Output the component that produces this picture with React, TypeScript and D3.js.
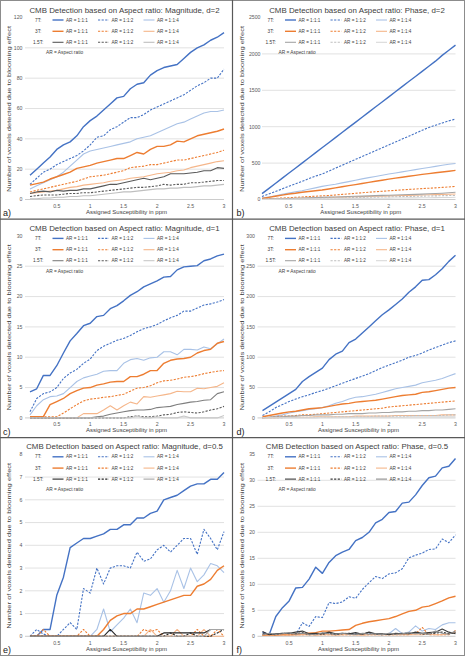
import React from "react";
import * as d3 from "d3";

// ---------- data ----------
const xValues = [0.1,0.2,0.3,0.4,0.5,0.6,0.7,0.8,0.9,1.0,1.1,1.2,1.3,1.4,1.5,1.6,1.7,1.8,1.9,2.0,2.1,2.2,2.3,2.4,2.5,2.6,2.7,2.8,2.9,3.0];
const xTicks = [0.5, 1, 1.5, 2, 2.5, 3];
const xTickLabels = ["0.5", "1", "1.5", "2", "2.5", "3"];

const panelTitles = [
  "CMB Detection based on Aspect ratio: Magnitude, d=2",
  "CMB Detection based on Aspect ratio: Phase, d=2",
  "CMB Detection based on Aspect ratio: Magnitude, d=1",
  "CMB Detection based on Aspect ratio: Phase, d=1",
  "CMB Detection based on Aspect ratio: Magnitude, d=0.5",
  "CMB Detection based on Aspect ratio: Phase, d=0.5",
];
const panelLetters = ["a)", "b)", "c)", "d)", "e)", "f)"];
const yMaxes = [120, 2500, 30, 300, 8, 35];
const yTicksA = [0, 20, 40, 60, 80, 100, 120];
const yTicksB = [0, 500, 1000, 1500, 2000, 2500];
const yTicksC = [0, 5, 10, 15, 20, 25, 30];
const yTicksD = [0, 50, 100, 150, 200, 250, 300];
const yTicksE = [0, 1, 2, 3, 4, 5, 6, 7, 8];
const yTicksF = [0, 5, 10, 15, 20, 25, 30, 35];

const fields = ["7T:", "3T:", "1.5T:"];
const aspectRatios = ["AR = 1:1:1", "AR = 1:1:2", "AR = 1:1:4"];
const yAxisTitle = "Number of voxels detected due to blooming effect";
const xAxisTitle = "Assigned Susceptibility in ppm";
const arNote = "AR = Aspect ratio";

// a) Magnitude d=2
const a7_111 = [16,20,24,28,33,36,38,42,48,52,55,59,63,67,68,73,76,77,82,85,87,88,89,93,97,100,102,105,107,110];
const a7_112 = [10,14,18,20,23,25,27,29,32,36,41,42,46,48,51,54,54,56,59,61,63,65,67,69,72,75,77,80,80,86];
const a7_114 = [7,9,11,13,15,18,22,26,30,32,33,34,35,36,37,38,40,41,42,44,46,48,50,51,53,55,57,58,58,59];
const a3_111 = [9.5,10.5,11.5,13.5,15,16.5,18,20.5,21.5,22.5,24,25,26,27,27,29,31,30,33,35,35,36,38.5,38,40,42,43,44,45,46.5];
const a3_112 = [5,6,7,8,9,10,11,12,13.5,15,15.5,16,17,18,19,21,21.5,22,23,23,24,25,26,26,27,28,29,30,31,32.5];
const a3_114 = [4,4.5,5,5.5,6,7,8,8.5,9.5,10,10.5,11,12,12.5,13,14,14.5,15,16,17,17.5,18,19,19.5,21,22,23,24,25,25.5];
const a15_111 = [4,5,5.5,5,6,5.5,6,6,7,7,8,9,10,10,11,12,13,14,13,14,15,17,17,17,17.5,18,19,19,21,20.5];
const a15_112 = [2,2.5,3,3,3,3.5,4,4,4.5,4.5,5,5.5,6,6.5,7,7.5,8,8,8.5,9,10,9.5,10,10,11,11,11.5,12,12.5,12.5];
const a15_114 = [0.5,0.5,1,1,1.5,1.5,2,2,2.5,2.5,3,3.5,4,4.5,5,5,5.5,6,6.5,7,7,7.5,7.5,8,8,8.5,9,9,9.5,10];

// b) Phase d=2
const b7_111 = [80,150,220,290,360,430,500,570,640,710,780,850,920,990,1060,1130,1200,1270,1340,1410,1480,1550,1620,1690,1760,1830,1900,1980,2050,2120];
const b7_112 = [40,75,110,145,180,215,250,285,320,350,390,430,470,510,550,590,630,670,710,750,790,830,870,910,950,990,1020,1050,1080,1105];
const b7_114 = [20,35,50,70,90,105,120,140,160,180,195,210,228,246,265,283,300,316,333,350,365,380,395,410,425,440,455,470,485,495];
const b3_111 = [15,30,45,60,75,85,100,110,120,130,145,160,175,190,205,220,235,250,265,280,293,306,319,332,345,356,367,378,389,400];
const b3_112 = [5,10,15,20,25,30,35,40,45,50,55,62,70,77,85,92,100,106,113,120,126,132,138,144,150,155,160,166,172,180];
const b3_114 = [3,5,8,10,13,15,18,20,23,25,27,30,32,35,37,40,42,45,47,50,52,55,57,60,62,65,67,70,72,75];
const b15_111 = [2,5,8,11,14,17,20,23,26,29,32,35,38,41,44,47,50,53,56,59,62,65,68,71,74,78,82,86,92,100];
const b15_112 = [1,3,5,7,9,10,12,14,16,18,20,21,23,25,27,29,31,32,34,36,38,40,42,44,46,48,50,52,54,56];
const b15_114 = [0,1,2,3,4,5,6,7,8,9,10,11,12,13,14,15,16,17,18,19,20,21,22,23,24,25,26,27,28,30];

// c) Magnitude d=1
const c7_111 = [4.3,4.8,7,7,8.6,10.7,12.7,13.9,15.2,15.6,16.7,16.9,18,18.5,19.3,20.2,20.8,21.6,22.1,22.6,23.2,23.3,24.4,24.9,25,25.1,25.9,26.2,26.7,27];
const c7_112 = [1,3.2,4,4.3,5,6.5,7.4,8,9,9.7,11.1,11.8,12.3,12.8,13.1,13.6,14.2,14.7,15,15.4,16,16.5,16.9,17.6,17.6,18.1,18.6,18.8,19.1,19.5];
const c7_114 = [0.5,2,3,3.5,3.6,4,5,6,6.6,6.9,7.2,7.7,7.8,7.8,9,9.6,9.8,9.5,9.9,10,10.9,10.9,10.4,11.3,11.3,11.2,11.7,11.4,12.2,13];
const c3_111 = [0.2,0.2,0.2,2.2,2.7,3.2,4,4.5,4.9,5,5.4,5.6,5.9,6,6,6.8,6.8,7.2,7.8,7.8,9,9.5,9.7,9.8,10,10.7,11.1,11.3,12.3,12.6];
const c3_112 = [0.2,0.2,0.2,0.2,0.2,0.8,1.5,2.2,2.8,3.1,3.2,3.4,3.5,3.7,3.9,4.4,4.9,5,5.3,5.8,6.1,6.2,6.4,6.7,6.8,7,7.3,7.5,7.7,7.8];
const c3_114 = [0,0,0,0,0,0,0,0,0.7,0.7,0.7,1.3,2,1.3,2,2.6,2.3,3.5,3.4,3.6,3.8,4,4.4,4.3,4.3,4.9,4.8,5,5.2,5.8];
const c15_111 = [0,0,0,0,0,0,0,0,0,0,0.2,0.3,0.6,0.8,1,1.2,1.3,1.3,1.4,1.7,1.8,1.9,2.2,2.4,2.6,2.7,2.9,3,4,4.3];
const c15_112 = [0,0,0,0,0,0,0,0,0,0,0,0,0,0,0,0.2,0.3,0.2,0.2,0.3,0.5,0.6,0.9,1,0.9,0.8,1,1.3,1.5,1.9];
const c15_114 = [0,0,0,0,0,0,0,0,0,0,0,0,0,0,0,0,0.3,0,0,0.2,0,0,0,0.3,0,0,0,0,0,0.4];

// d) Phase d=1
const d7_111 = [12,19,26,33,40,47,60,68,75,82,96,105,110,124,130,140,150,160,170,178,187,196,207,216,227,228,236,246,258,268];
const d7_112 = [4,10,17,22,27,31,35,38,42,45,49,53,57,61,65,69,73,78,83,87,91,95,100,103,107,112,116,120,124,127];
const d7_114 = [0,1,3,5,8,10,12,14,15,17,20,24,27,31,34,35,37,39,42,45,48,50,52,54,58,60,62,65,69,73];
const d3_111 = [2,4,6,8,10,11,13,15,16,17,19,21,23,24,26,27,28,29,31,33,35,37,38,39,42,43,45,47,49,50];
const d3_112 = [0,1,2,3,3,4,5,5,6,7,8,9,10,11,12,13,14,15,16,18,19,20,21,22,23,24,25,26,27,28];
const d3_114 = [0,0,0,1,1,1,1,1,2,2,2,2,2,2,3,3,3,3,3,3,4,4,4,4,4,4,4,5,5,5];
const d15_111 = [0,1,2,2,3,3,4,4,5,5,5,6,6,7,7,7,8,8,9,9,10,10,11,11,12,12,13,13,14,15];
const d15_112 = [0,0,0,0,1,1,1,1,1,1,1,2,2,2,2,2,2,3,3,3,3,3,3,4,4,4,4,4,5,5];
const d15_114 = [0,0,0,0,0,0,0,0,0,1,1,1,1,1,1,1,1,1,1,1,1,1,2,2,2,2,2,2,2,2];

// e) Magnitude d=0.5
const e7_111 = [0,0,0.3,0.3,1.8,2.6,3.9,4.1,4.3,4.3,4.4,4.5,4.7,4.7,4.9,4.9,5.2,5.2,5.4,5.5,6,6.1,6.2,6.4,6.6,6.7,6.7,6.9,6.9,7.2];
const e7_112 = [0,0.3,0.1,0,0,0.3,0.6,0.3,2.1,1.9,3,2.3,3,3.1,3.1,3,3.7,3.3,3.4,3.8,4,3.7,4,4.3,4.3,3.6,4.7,4.3,3.8,4.6];
const e7_114 = [0,0,0,0,0,0,0,0,0,0,0.3,1.2,0.2,0.5,0.8,1.2,0.6,1.9,1.8,2.1,1.5,2,2.9,2.1,3,2.4,2.7,3.2,3.1,2.8];
const e3_111 = [0,0,0,0,0,0,0,0,0,0,0,0.3,0.7,0.9,1,1,1.2,1.2,1.3,1.4,1.5,1.6,1.7,1.8,1.8,2.2,2.3,2.5,2.9,3.1];
const e3_112 = [0,0,0.3,0,0,0,0,0,0.3,0,0,0,0,0,0,0,0,0.3,0.2,0.3,0,0,0,0,0,0.3,0,0,0.3,0];
const e3_114 = [0,0,0,0,0,0,0,0,0,0,0,0,0,0,0,0,0,0,0.3,0,0,0,0.3,0,0,0,0.3,0,0,0];
const e15_111 = [0,0,0,0,0,0,0,0,0,0,0,0,0.3,0,0,0,0,0,0,0,0.15,0.15,0.15,0.15,0.15,0.15,0.15,0.3,0.3,0.3];
const e15_112 = [0,0,0,0,0,0,0,0,0,0,0,0,0,0,0,0,0,0,0,0,0,0.15,0,0,0.15,0,0,0,0.15,0.3];
const e15_114 = [0,0,0,0,0,0,0,0,0,0,0,0,0,0,0,0,0,0,0,0,0,0,0,0,0,0,0,0.3,0.3,0.3];

// f) Phase d=0.5
const f7_111 = [0.8,0.3,3.8,5.5,6.8,9.3,9.4,11,13.3,12.1,14.2,15.5,16.2,16.7,18.4,19,20,21.8,22.5,23.8,24,25.6,25.8,27.2,29,30.5,30.8,32.4,32.7,34.2];
const f7_112 = [0.3,0.3,0.3,0.3,0.3,0.3,2.6,1.9,3.8,3.6,6.5,6.3,6.6,7.6,7.3,9,10.3,11.5,11.1,12,12.2,13,15.1,15.6,16,16.7,16.8,18.7,18,19.5];
const f7_114 = [0.3,0.3,0.5,0.5,0.5,0.5,0.3,0.5,0.5,0.5,0.5,0.3,0.5,0.5,0.5,0.5,0.5,0.5,0.3,0.5,1.5,0.5,0.8,2,1,1.5,1.3,2.2,2.6,2.6];
const f3_111 = [0.2,0.2,0.2,0.3,0.3,0.4,0.5,0.6,0.7,1,1,1.1,1.2,1.3,2.1,2.5,2.8,3,3.2,3.4,3.8,4.3,4.8,5,5.6,5.8,6.3,6.8,7.4,7.7];
const f3_112 = [0.2,0.3,0.3,0.3,0.3,0.3,0.3,0.3,0.3,0.3,0.3,0.3,0.3,0.3,0.3,0.3,0.3,0.3,0.3,0.3,0.3,0.3,0.3,0.5,1.7,0.3,0.3,0.3,0.3,1.1];
const f3_114 = [0.3,0.2,0.3,0.2,0.3,0.2,0.3,0.3,0.2,0.3,0.3,0.2,0.3,0.3,0.3,0.2,0.3,0.3,0.3,0.3,0.3,0.3,0.3,0.3,0.3,0.5,0.3,0.3,0.5,0.8];
const f15_111 = [0.9,0.3,0.5,0.6,0.6,0.8,1,0.5,0.6,0.5,0.8,0.5,0.6,0.5,0.7,0.4,0.8,0.5,0.5,0.3,0.6,0.5,0.5,0.8,0.6,0.7,0.8,1.4,0.8,0.5];
const f15_112 = [0.5,0.5,0.3,0.6,0.5,0.5,0.7,0.3,0.5,0.4,0.6,0.3,0.5,0.6,0.4,0.5,0.7,0.4,0.3,0.5,0.4,0.6,0.5,0.7,0.4,0.5,0.6,0.8,0.5,0.7];
const f15_114 = [0.3,0.6,0.4,0.5,0.7,0.4,0.6,0.4,0.3,0.7,0.5,0.4,0.6,0.4,0.3,0.6,0.4,0.5,0.3,0.6,0.4,0.5,0.7,0.5,0.6,0.4,1,0.6,0.4,1];

// ---------- styling ----------
const FONT = "'Liberation Sans', Arial, sans-serif";
const W = 465;
const H = 656;
const PW = 232.5;
const PH = 218.4;

const fieldColors7 = ["#4472C4", "#4472C4", "#A9C2E6"];
const fieldColors3 = ["#ED7D31", "#ED7D31", "#F5B68A"];
const greyPalettes = [
  ["#595959", "#595959", "#BFBFBF"],
  ["#A5A5A5", "#BFBFBF", "#D9D9D9"],
  ["#7F7F7F", "#595959", "#C8C8C8"],
  ["#A5A5A5", "#BFBFBF", "#D9D9D9"],
  ["#262626", "#262626", "#A5A5A5"],
  ["#3A3A3A", "#3A3A3A", "#8C8C8C"],
];

type PanelCfg = {
  title: string;
  letter: string;
  yMax: number;
  yTicks: number[];
  series: number[][][]; // [field][ar] values
  greys: string[];
};

const panels: PanelCfg[] = [
  { title: panelTitles[0], letter: panelLetters[0], yMax: yMaxes[0], yTicks: yTicksA, greys: greyPalettes[0],
    series: [[a7_111, a7_112, a7_114], [a3_111, a3_112, a3_114], [a15_111, a15_112, a15_114]] },
  { title: panelTitles[1], letter: panelLetters[1], yMax: yMaxes[1], yTicks: yTicksB, greys: greyPalettes[1],
    series: [[b7_111, b7_112, b7_114], [b3_111, b3_112, b3_114], [b15_111, b15_112, b15_114]] },
  { title: panelTitles[2], letter: panelLetters[2], yMax: yMaxes[2], yTicks: yTicksC, greys: greyPalettes[2],
    series: [[c7_111, c7_112, c7_114], [c3_111, c3_112, c3_114], [c15_111, c15_112, c15_114]] },
  { title: panelTitles[3], letter: panelLetters[3], yMax: yMaxes[3], yTicks: yTicksD, greys: greyPalettes[3],
    series: [[d7_111, d7_112, d7_114], [d3_111, d3_112, d3_114], [d15_111, d15_112, d15_114]] },
  { title: panelTitles[4], letter: panelLetters[4], yMax: yMaxes[4], yTicks: yTicksE, greys: greyPalettes[4],
    series: [[e7_111, e7_112, e7_114], [e3_111, e3_112, e3_114], [e15_111, e15_112, e15_114]] },
  { title: panelTitles[5], letter: panelLetters[5], yMax: yMaxes[5], yTicks: yTicksF, greys: greyPalettes[5],
    series: [[f7_111, f7_112, f7_114], [f3_111, f3_112, f3_114], [f15_111, f15_112, f15_114]] },
];

function seriesStyle(cfg: PanelCfg, f: number, a: number) {
  const color = f === 0 ? fieldColors7[a] : f === 1 ? fieldColors3[a] : cfg.greys[a];
  const width = a === 0 && f < 2 ? 1.4 : a === 2 ? 1.1 : 1.1;
  const dash = a === 1 ? "2.2,1.4" : undefined;
  return { color, width, dash };
}

function Panel({ cfg, ox, oy, col }: { cfg: PanelCfg; ox: number; oy: number; col: number }) {
  const wideLabels = cfg.yMax >= 1000;
  const plotLeft = wideLabels ? 29.5 : 25;
  const dataLeft = wideLabels ? 29.5 : 30;
  const right = col === 0 ? 224 : 223;
  const x = d3.scaleLinear().domain([0.1, 3]).range([dataLeft, right]);
  const y = d3.scaleLinear().domain([0, cfg.yMax]).range([199.5, 17.5]);
  const line = d3
    .line<number>()
    .x((_, i) => x(xValues[i]))
    .y((d) => y(d));
  const labelRight = wideLabels ? 28 : 22.5;

  const legendRowsY = [20, 31.3, 42.3];
  const swX = [52.5, 98, 143.5];
  const swW = 11;

  return (
    <g transform={`translate(${ox},${oy})`} fontFamily={FONT}>
      {/* gridlines */}
      {cfg.yTicks.slice(0, -1).map((t) => (
        <line key={`g${t}`} x1={plotLeft} x2={right} y1={y(t)} y2={y(t)}
          stroke={t === 0 ? "#BFBFBF" : "#D9D9D9"} strokeWidth={0.8} />
      ))}
      {/* y tick labels */}
      {cfg.yTicks.map((t) => (
        <text key={`yl${t}`} x={labelRight} y={y(t) + 1.8} fontSize={5.2} textAnchor="end" fill="#595959">
          {t}
        </text>
      ))}
      {/* x tick labels */}
      {xTicks.map((t, i) => (
        <text key={`xl${t}`} x={x(t)} y={208} fontSize={5.2} textAnchor="middle" fill="#595959">
          {xTickLabels[i]}
        </text>
      ))}
      {/* series */}
      {cfg.series.map((row, f) =>
        row.map((vals, a) => {
          const st = seriesStyle(cfg, f, a);
          return (
            <path key={`s${f}${a}`} d={line(vals) || ""} fill="none" stroke={st.color}
              strokeWidth={st.width} strokeDasharray={st.dash} strokeLinejoin="round" />
          );
        })
      )}
      {/* title */}
      <text x={124.5} y={12.6} fontSize={7.9} textAnchor="middle" fill="#404040">
        {cfg.title}
      </text>
      {/* axis titles */}
      <text x={(plotLeft + right) / 2 + 2} y={213.8} fontSize={6} textAnchor="middle" fill="#404040">
        {xAxisTitle}
      </text>
      <text transform={`translate(11.3,${109}) rotate(-90)`} fontSize={6} textAnchor="middle"
        fill="#404040" textLength={166} lengthAdjust="spacingAndGlyphs">
        {yAxisTitle}
      </text>
      {/* legend */}
      {fields.map((fl, f) => (
        <g key={`lg${f}`}>
          <text x={f === 2 ? 33 : 35} y={legendRowsY[f] + 1.6} fontSize={4.8} fill="#404040">
            {fl}
          </text>
          {aspectRatios.map((ar, a) => {
            const st = seriesStyle(cfg, f, a);
            return (
              <g key={`lgi${a}`}>
                <line x1={swX[a]} x2={swX[a] + swW} y1={legendRowsY[f]} y2={legendRowsY[f]}
                  stroke={st.color} strokeWidth={st.width} strokeDasharray={st.dash} />
                <text x={swX[a] + swW + 2.5} y={legendRowsY[f] + 1.6} fontSize={4.6} fill="#404040">
                  {ar}
                </text>
              </g>
            );
          })}
        </g>
      ))}
      <text x={46} y={54.2} fontSize={4.8} fill="#404040">{arNote}</text>
      {/* panel letter */}
      <text x={col === 0 ? 3 : 4} y={216.3} fontSize={9} fill="#222">{cfg.letter}</text>
    </g>
  );
}

export default function App() {
  return (
    <svg width={W} height={H} viewBox={`0 0 ${W} ${H}`}
      style={{ position: "absolute", left: 0, top: 0, display: "block", background: "#fff" }}>
      <rect x={0} y={0} width={W} height={H} fill="#fff" />
      {panels.map((cfg, i) => {
        const col = i % 2;
        const row = Math.floor(i / 2);
        return <Panel key={i} cfg={cfg} ox={col * PW} oy={row * PH} col={col} />;
      })}
      {/* frame and dividers */}
      <rect x={0.5} y={0.5} width={W - 1} height={H - 1} fill="none" stroke="#8C8C8C" strokeWidth={1} />
      <line x1={PW} x2={PW} y1={0} y2={H} stroke="#595959" strokeWidth={1.2} />
      <line x1={0} x2={W} y1={PH + 0.7} y2={PH + 0.7} stroke="#595959" strokeWidth={1.2} />
      <line x1={0} x2={W} y1={2 * PH + 0.9} y2={2 * PH + 0.9} stroke="#595959" strokeWidth={1.2} />
    </svg>
  );
}
